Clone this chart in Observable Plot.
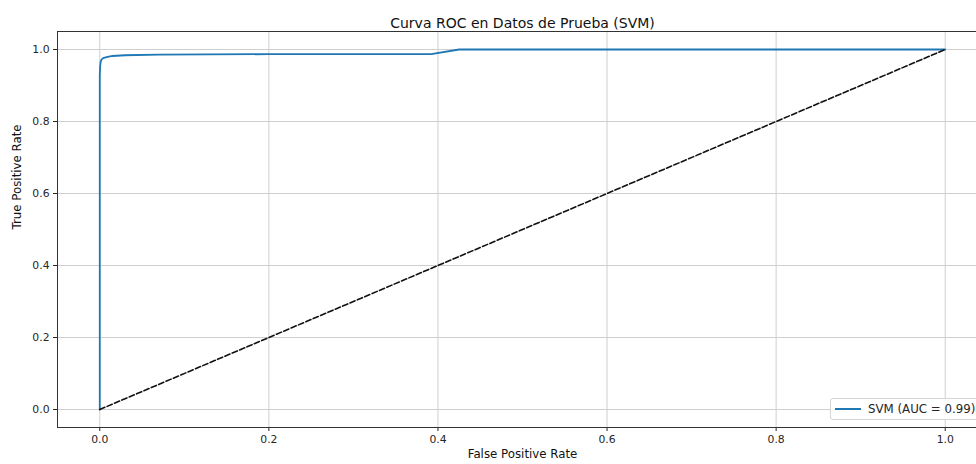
<!DOCTYPE html>
<html>
<head>
<meta charset="utf-8">
<script src="https://cdn.jsdelivr.net/npm/d3@7"></script>
<script src="https://cdn.jsdelivr.net/npm/@observablehq/plot@0.6"></script>
<style>
  html, body { margin: 0; padding: 0; background: #fff; overflow: hidden; }
  #wrap { position: relative; width: 976px; height: 464px; font-family: "DejaVu Sans", sans-serif; }
  #legend { position: absolute; left: 830px; top: 398px; width: 170px; height: 22px; box-sizing: border-box;
    border: 1px solid #d5d5d5; border-radius: 3px; background: rgba(255,255,255,0.85);
    font-size: 11.8px; color: #262626; }
  #legend .sw { position: absolute; left: 4px; top: 9px; width: 26px; height: 2px; background: #1f77b4; }
  #legend .lb { position: absolute; left: 37px; top: 3px; white-space: nowrap; }
</style>
</head>
<body>
<div id="wrap"></div>
<script>
const fprValues = [0, 0, 0.0005, 0.001, 0.002, 0.004, 0.008, 0.015, 0.03, 0.07, 0.2, 0.392, 0.425, 0.7, 1.0];
const tprValues = [0, 0.93, 0.955, 0.965, 0.972, 0.976, 0.979, 0.982, 0.984, 0.986, 0.987, 0.987, 1.0, 1.0, 1.0];
const diagonal = [0, 1];
const tickValues = [0, 0.2, 0.4, 0.6, 0.8, 1.0];
const titleText = "Curva ROC en Datos de Prueba (SVM)";
const xLabel = "False Positive Rate";
const yLabel = "True Positive Rate";
const legendLabel = "SVM (AUC = 0.99)";

const roc = fprValues.map((x, i) => ({x, y: tprValues[i]}));
const diag = diagonal.map(v => ({x: v, y: v}));

const chart = Plot.plot({
  width: 976,
  height: 464,
  marginLeft: 57,
  marginRight: -11,
  marginTop: 31,
  marginBottom: 37,
  style: {fontFamily: "DejaVu Sans, sans-serif", fontSize: "10.8px", color: "#262626", overflow: "visible"},
  x: {domain: [-0.05, 1.05], ticks: tickValues, tickFormat: d3.format(".1f"), label: null,
      tickSize: 4, tickPadding: 4},
  y: {domain: [-0.05, 1.05], ticks: tickValues, tickFormat: d3.format(".1f"), label: null,
      tickSize: 4, tickPadding: 4},
  marks: [
    Plot.gridX(tickValues, {stroke: "#cfcfcf", strokeOpacity: 1, strokeWidth: 1}),
    Plot.gridY(tickValues, {stroke: "#cfcfcf", strokeOpacity: 1, strokeWidth: 1}),
    Plot.line(roc, {x: "x", y: "y", stroke: "#1f77b4", strokeWidth: 1.8, curve: "linear"}),
    Plot.line(diag, {x: "x", y: "y", stroke: "#111", strokeWidth: 1.6, strokeDasharray: "5.5,2.5"}),
    Plot.frame({stroke: "#333", strokeWidth: 1}),
    Plot.text([titleText], {frameAnchor: "top", text: d => d, dy: -13, fontSize: 14, fill: "#111"}),
    Plot.text([xLabel], {frameAnchor: "bottom", text: d => d, dy: 30, fontSize: 11.8, fill: "#111"}),
    Plot.text([yLabel], {frameAnchor: "left", text: d => d, dx: -40, rotate: -90, fontSize: 11.8, fill: "#111"})
  ]
});
document.getElementById("wrap").appendChild(chart);
const lg = document.createElement("div");
lg.id = "legend";
lg.innerHTML = '<div class="sw"></div><div class="lb"></div>';
lg.querySelector(".lb").textContent = legendLabel;
document.getElementById("wrap").appendChild(lg);
</script>
</body>
</html>
